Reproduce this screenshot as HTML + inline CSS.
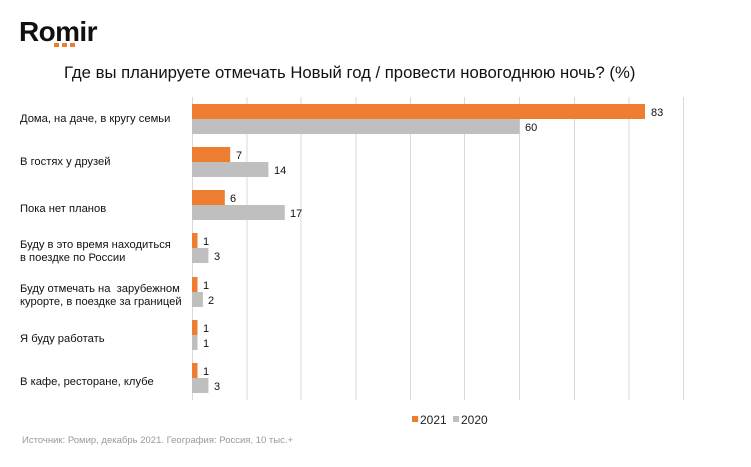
<!DOCTYPE html>
<html><head><meta charset="utf-8"><style>
html,body{margin:0;padding:0;background:#fff;}
svg{display:block;font-family:"Liberation Sans",Arial,sans-serif;}
</style></head><body>
<svg width="751" height="467" viewBox="0 0 751 467" xmlns="http://www.w3.org/2000/svg">
<text x="19" y="41" font-size="28" font-weight="bold" fill="#111" letter-spacing="-0.6">Romir</text>
<rect x="54" y="43" width="5" height="4" fill="#ed7d31"/>
<rect x="62" y="43" width="5" height="4" fill="#ed7d31"/>
<rect x="70" y="43" width="5" height="4" fill="#ed7d31"/>
<text x="64" y="78" font-size="16.7" fill="#111">Где вы планируете отмечать Новый год / провести новогоднюю ночь? (%)</text>
<g stroke="#d9d9d9" stroke-width="1">
<line x1="192.5" y1="97" x2="192.5" y2="400"/>
<line x1="247" y1="97" x2="247" y2="400"/>
<line x1="301" y1="97" x2="301" y2="400"/>
<line x1="356" y1="97" x2="356" y2="400"/>
<line x1="410.5" y1="97" x2="410.5" y2="400"/>
<line x1="464.5" y1="97" x2="464.5" y2="400"/>
<line x1="519.5" y1="97" x2="519.5" y2="400"/>
<line x1="574.5" y1="97" x2="574.5" y2="400"/>
<line x1="629" y1="97" x2="629" y2="400"/>
<line x1="683.5" y1="97" x2="683.5" y2="400"/>
</g>
<g font-size="11" fill="#111">
<rect x="192" y="104" width="453" height="15" fill="#ed7d31"/>
<rect x="192" y="119" width="327.6" height="15" fill="#bfbfbf"/>
<text x="651" y="116">83</text><text x="525" y="131">60</text>
<rect x="192" y="147" width="38.2" height="15" fill="#ed7d31"/>
<rect x="192" y="162" width="76.4" height="15" fill="#bfbfbf"/>
<text x="236" y="159">7</text><text x="274" y="174">14</text>
<rect x="192" y="190" width="32.8" height="15" fill="#ed7d31"/>
<rect x="192" y="205" width="92.8" height="15" fill="#bfbfbf"/>
<text x="230" y="202">6</text><text x="290" y="217">17</text>
<rect x="192" y="233" width="5.5" height="15" fill="#ed7d31"/>
<rect x="192" y="248" width="16.4" height="15" fill="#bfbfbf"/>
<text x="203" y="245">1</text><text x="214" y="260">3</text>
<rect x="192" y="277" width="5.5" height="15" fill="#ed7d31"/>
<rect x="192" y="292" width="10.9" height="15" fill="#bfbfbf"/>
<text x="203" y="289">1</text><text x="208" y="304">2</text>
<rect x="192" y="320" width="5.5" height="15" fill="#ed7d31"/>
<rect x="192" y="335" width="5.5" height="15" fill="#bfbfbf"/>
<text x="203" y="332">1</text><text x="203" y="347">1</text>
<rect x="192" y="363" width="5.5" height="15" fill="#ed7d31"/>
<rect x="192" y="378" width="16.4" height="15" fill="#bfbfbf"/>
<text x="203" y="375">1</text><text x="214" y="390">3</text>
</g>
<g font-size="11.2" fill="#111">
<text x="20" y="122">Дома, на даче, в кругу семьи</text>
<text x="20" y="165">В гостях у друзей</text>
<text x="20" y="212">Пока нет планов</text>
<text x="20" y="248">Буду в это время находиться</text>
<text x="20" y="261">в поездке по России</text>
<text x="20" y="292" xml:space="preserve">Буду отмечать на  зарубежном</text>
<text x="20" y="305">курорте, в поездке за границей</text>
<text x="20" y="342">Я буду работать</text>
<text x="20" y="385">В кафе, ресторане, клубе</text>
</g>
<rect x="412" y="416" width="6" height="6" fill="#ed7d31"/>
<text x="420" y="424" font-size="12" fill="#222">2021</text>
<rect x="453" y="416" width="6" height="6" fill="#bfbfbf"/>
<text x="461" y="424" font-size="12" fill="#222">2020</text>
<text x="22" y="443" font-size="9.5" fill="#999">Источник: Ромир, декабрь 2021. География: Россия, 10 тыс.+</text>
</svg>
</body></html>
